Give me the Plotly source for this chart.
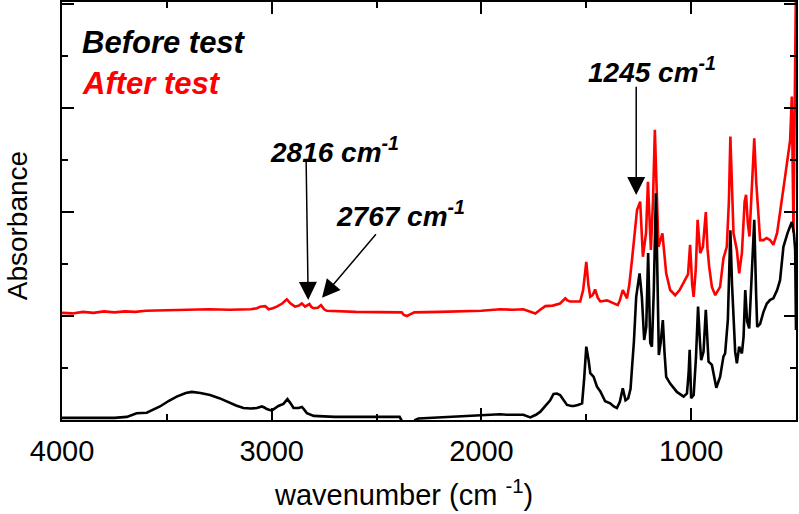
import plotly.graph_objects as go

# ---- data (wavenumber in cm-1, absorbance in arbitrary units) ----
before_wn = [4000, 3900, 3800, 3750, 3691, 3660, 3644, 3596, 3560, 3533, 3490, 3453, 3410, 3381,
             3340, 3294, 3250, 3214, 3170, 3135, 3100, 3071, 3047, 3035, 3023, 3000, 2985, 2968,
             2944, 2925, 2910, 2896, 2872, 2856, 2845, 2832, 2800, 2700, 2578, 2450, 2390, 2375,
             2360, 2330, 2316, 2300, 2200, 2100, 2006, 1911, 1880, 1840, 1800, 1767, 1740, 1719,
             1690, 1672, 1656, 1640, 1625, 1608, 1592, 1570, 1560, 1540, 1520, 1510, 1500, 1489,
             1481, 1465, 1449, 1433, 1410, 1386, 1369, 1354, 1340, 1326, 1313, 1300, 1289, 1282,
             1273, 1262, 1246, 1235, 1224, 1214, 1205, 1195, 1187, 1178, 1168, 1160, 1154, 1145,
             1135, 1127, 1119, 1100, 1068, 1036, 1020, 1012, 1007, 1000, 988, 977, 967, 958, 952,
             941, 930, 917, 901, 880, 862, 846, 838, 825, 818, 813, 805, 798, 790, 782, 771, 758,
             750, 742, 733, 723, 712, 699, 690, 685, 671, 655, 639, 623, 608, 590, 576, 560, 540,
             520, 510, 504, 500]
before_abs = [0.04, 0.04, 0.05, 0.04, 0.06, 0.11, 0.13, 0.14, 0.20, 0.26, 0.37, 0.45, 0.52, 0.54,
              0.52, 0.48, 0.42, 0.35, 0.28, 0.23, 0.22, 0.23, 0.26, 0.24, 0.21, 0.18, 0.22, 0.27,
              0.31, 0.40, 0.32, 0.23, 0.23, 0.25, 0.20, 0.13, 0.08, 0.06, 0.06, 0.06, 0.06, -0.05,
              -0.20, -0.10, 0.00, 0.03, 0.05, 0.07, 0.09, 0.11, 0.10, 0.10, 0.10, 0.05, 0.10, 0.16,
              0.30, 0.38, 0.50, 0.51, 0.48, 0.38, 0.29, 0.27, 0.27, 0.29, 0.32, 0.80, 1.41, 1.15,
              0.90, 0.83, 0.64, 0.55, 0.36, 0.32, 0.26, 0.23, 0.35, 0.61, 0.38, 0.42, 0.60, 1.00,
              1.50, 2.37, 2.82, 2.37, 1.54, 1.79, 3.21, 1.48, 1.41, 2.50, 4.36, 2.60, 1.25, 1.50,
              1.92, 1.30, 0.83, 0.70, 0.54, 0.45, 0.51, 0.90, 1.35, 0.42, 0.48, 1.20, 2.18, 1.50, 1.15,
              1.31, 2.12, 1.12, 1.06, 0.62, 0.83, 1.22, 1.28, 1.92, 3.00, 3.65, 2.60, 2.00, 1.31, 1.09,
              1.41, 1.28, 1.60, 2.50, 1.90, 1.76, 2.60, 3.85, 2.40, 1.79, 1.85, 2.08, 2.24, 2.31, 2.34,
              2.50, 2.69, 3.33, 3.60, 3.81, 3.60, 3.27, 1.73]

after_wn = [4000, 3950, 3900, 3850, 3800, 3750, 3700, 3650, 3600, 3500, 3400, 3300, 3200, 3100,
            3070, 3055, 3031, 3015, 2995, 2976, 2950, 2928, 2910, 2889, 2870, 2856, 2841, 2830,
            2820, 2810, 2800, 2780, 2765, 2750, 2737, 2600, 2400, 2380, 2370, 2355, 2340, 2320,
            2200, 2100, 2000, 1911, 1850, 1800, 1770, 1743, 1720, 1695, 1660, 1640, 1625, 1600,
            1590, 1577, 1553, 1529, 1515, 1500, 1490, 1481, 1470, 1458, 1445, 1433, 1401, 1369,
            1350, 1340, 1326, 1306, 1295, 1282, 1258, 1243, 1230, 1215, 1206, 1192, 1182, 1173,
            1165, 1156, 1137, 1119, 1100, 1076, 1055, 1029, 1015, 1005, 995, 988, 978, 969, 957,
            944, 930, 922, 914, 901, 885, 862, 846, 830, 820, 813, 805, 798, 782, 771, 758, 745,
            738, 730, 722, 712, 699, 690, 683, 671, 655, 640, 623, 608, 590, 576, 552, 528, 520,
            512, 505, 500]
after_abs = [2.06, 2.05, 2.08, 2.06, 2.09, 2.07, 2.09, 2.08, 2.10, 2.11, 2.12, 2.13, 2.12, 2.13,
             2.15, 2.18, 2.19, 2.13, 2.15, 2.18, 2.24, 2.32, 2.24, 2.18, 2.20, 2.24, 2.18, 2.20,
             2.23, 2.17, 2.15, 2.16, 2.21, 2.13, 2.10, 2.08, 2.08, 2.07, 2.02, 2.00, 2.03, 2.07,
             2.08, 2.09, 2.10, 2.13, 2.12, 2.13, 2.08, 2.05, 2.12, 2.19, 2.20, 2.22, 2.24, 2.34,
             2.30, 2.28, 2.28, 2.28, 2.50, 3.04, 2.60, 2.37, 2.40, 2.51, 2.35, 2.28, 2.30, 2.24,
             2.21, 2.30, 2.50, 2.34, 2.60, 3.08, 4.04, 4.20, 3.14, 3.60, 4.58, 3.27, 4.20, 5.58,
             4.30, 3.33, 3.59, 2.82, 2.50, 2.40, 2.50, 2.69, 2.80, 3.37, 2.60, 2.37, 2.90, 3.85, 3.21,
             3.33, 4.00, 3.30, 2.95, 2.56, 2.40, 2.56, 3.11, 3.33, 4.20, 5.45, 4.20, 3.59, 3.27, 2.82,
             3.21, 4.20, 4.33, 3.80, 3.53, 4.30, 5.42, 4.60, 4.10, 3.46, 3.46, 3.50, 3.46, 3.37, 3.60,
             3.97, 4.68, 5.38, 6.22, 3.60, 6.00, 8.50]

x_tick_vals = [4000, 3000, 2000, 1000]
x_tick_text = ["4000", "3000", "2000", "1000"]
x_minor_vals = [3500, 2500, 1500, 500]
y_major_vals = [0, 2, 4, 6, 8]
y_minor_vals = [1, 3, 5, 7]

FONT = "Liberation Sans, Arial, sans-serif"

fig = go.Figure()
fig.add_trace(go.Scatter(x=after_wn, y=after_abs, mode="lines",
                         line=dict(color="#ff0000", width=2.6), name="After test"))
fig.add_trace(go.Scatter(x=before_wn, y=before_abs, mode="lines",
                         line=dict(color="#000000", width=2.6), name="Before test"))

axis_common = dict(showgrid=False, zeroline=False, showline=True, linecolor="black",
                   linewidth=2, mirror="allticks", ticks="inside", tickcolor="black",
                   tickwidth=1.5, ticklen=12, automargin=False)

fig.update_xaxes(range=[4000, 500], tickmode="array", tickvals=x_tick_vals,
                 ticktext=x_tick_text, tickfont=dict(size=29, family=FONT, color="black"),
                 ticklabelstandoff=4,
                 minor=dict(tickmode="array", tickvals=x_minor_vals, ticks="inside",
                            ticklen=6, tickwidth=1.5, tickcolor="black"),
                 **axis_common)
fig.update_yaxes(range=[0, 8.04], tickmode="array", tickvals=y_major_vals,
                 showticklabels=False,
                 minor=dict(tickmode="array", tickvals=y_minor_vals, ticks="inside",
                            ticklen=6, tickwidth=1.5, tickcolor="black"),
                 **axis_common)

annotations = [
    # axis titles
    dict(xref="paper", yref="paper", x=0.4646, y=-0.1746, xanchor="center", yanchor="middle",
         text="wavenumber (cm <sup>-1</sup>)", showarrow=False,
         font=dict(size=29, family=FONT, color="black")),
    dict(xref="paper", yref="paper", x=-0.061, y=0.464, xanchor="center", yanchor="middle",
         text="Absorbance", textangle=-90, showarrow=False,
         font=dict(size=28, family=FONT, color="black")),
    # legend texts
    dict(xref="paper", yref="paper", x=0.0245, y=0.904, xanchor="left", yanchor="middle",
         text="<b><i>Before test</i></b>", showarrow=False,
         font=dict(size=31, family=FONT, color="black")),
    dict(xref="paper", yref="paper", x=0.0245, y=0.806, xanchor="left", yanchor="middle",
         text="<b><i>After test</i></b>", showarrow=False,
         font=dict(size=31, family=FONT, color="#ff0000")),
    # peak labels
    dict(xref="x", yref="y", x=1186, y=6.74, xanchor="center", yanchor="middle",
         text="<b><i>1245 cm<sup>-1</sup></i></b>", showarrow=False,
         font=dict(size=28, family=FONT, color="black")),
    dict(xref="x", yref="y", x=2703, y=5.19, xanchor="center", yanchor="middle",
         text="<b><i>2816 cm<sup>-1</sup></i></b>", showarrow=False,
         font=dict(size=28, family=FONT, color="black")),
    dict(xref="x", yref="y", x=2388, y=3.97, xanchor="center", yanchor="middle",
         text="<b><i>2767 cm<sup>-1</sup></i></b>", showarrow=False,
         font=dict(size=28, family=FONT, color="black")),
]

arrows = [((1262, 4.33), (1262, 6.44)),
          ((2826, 2.31), (2836, 5.0)),
          ((2760, 2.35), (2497, 3.6))]
for (hx, hy), (tx, ty) in arrows:
    annotations.append(dict(xref="x", yref="y", axref="x", ayref="y", x=hx, y=hy, ax=tx, ay=ty,
                            text="", showarrow=True, arrowhead=2, arrowsize=2.4,
                            arrowwidth=1.5, arrowcolor="black", standoff=0, startstandoff=0))

fig.update_layout(width=799, height=514, margin=dict(l=62, r=3, t=2, b=94, autoexpand=False),
                  plot_bgcolor="white", paper_bgcolor="white", showlegend=False,
                  font=dict(family=FONT, color="black"), annotations=annotations)

fig.write_html("out.html", config={"displayModeBar": False},
               post_script="document.body.style.margin='0';document.body.style.padding='0';"
                           "document.body.style.overflow='hidden';")
